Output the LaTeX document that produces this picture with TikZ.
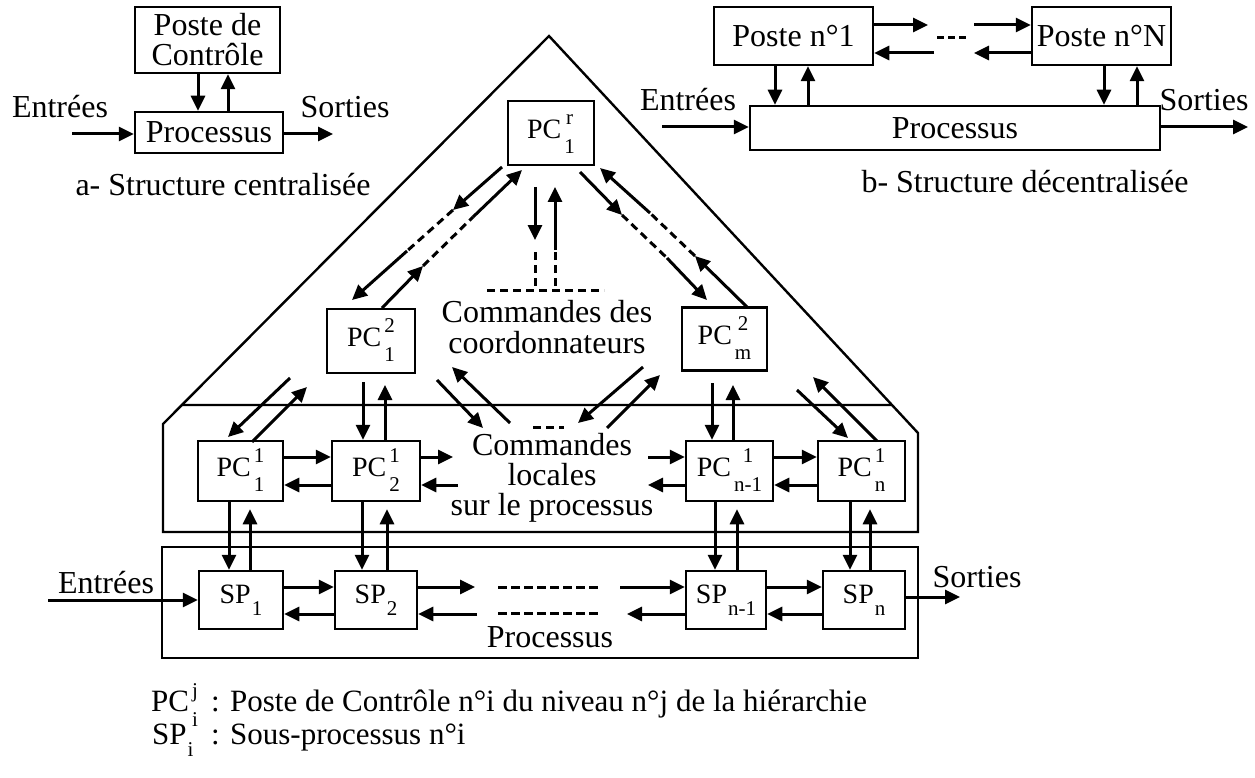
\documentclass[tikz,border=0pt]{standalone}
\usepackage{fontspec}
\setmainfont{Liberation Serif}
\usetikzlibrary{arrows.meta,calc}
\newcommand\ud[2]{\hspace{3pt}\raisebox{-15pt}{\fontsize{21}{29}\selectfont\begin{tabular}[b]{@{}c@{}}#1\\#2\end{tabular}}}
\newcommand\dn[1]{\hspace{1pt}\raisebox{-12pt}{\fontsize{21}{21}\selectfont #1}}
\newcommand\txt{\fontsize{32}{30}\selectfont}
\newcommand\ltxt{\fontsize{28}{30}\selectfont}
\begin{document}
\begin{tikzpicture}[x=1pt,y=-1pt,
  box/.style={draw, line width=2.5pt, inner sep=0pt, font=\txt},
  pcbox/.style={draw, line width=2.5pt, inner sep=0pt, font=\ltxt},
  lbl/.style={inner sep=0pt, font=\txt},
  arr/.style={line width=3pt, -{Triangle[length=15pt,width=14pt]}},
  dsh/.style={line width=3pt, dash pattern=on 8pt off 5pt},
  frame/.style={line width=2.4pt}]
\fill[white] (0,0) rectangle (1255,778);
\useasboundingbox (0,0) rectangle (1255,778);

% ---------- (a) centralised structure
\node[box, minimum width=145pt, minimum height=66pt, align=center] (postec) at (207.5,40) {Poste de\\Contrôle};
\node[box, minimum width=148pt, minimum height=41pt] (procA) at (209,132.5) {Processus};
\node[lbl] (entA) at (60,107) {Entrées};
\node[lbl] (sortA) at (345,107) {Sorties};
\coordinate (inA) at (72,134);
\coordinate (outA) at (333,134);
\draw[arr] (inA) -- (inA -| procA.west);
\draw[arr] (outA -| procA.east) -- (outA);
\draw[arr] ([xshift=-9.5pt]postec.south) -- ([xshift=-9.5pt]postec.south |- procA.north);
\draw[arr] ([xshift=20.5pt]postec.south |- procA.north) -- ([xshift=20.5pt]postec.south);
\node[lbl] (capA) at (223,185) {a- Structure centralisée};

% ---------- (b) decentralised structure
\node[box, minimum width=159pt, minimum height=58pt] (p1) at (793.5,36) {Poste n°1};
\node[box, minimum width=139pt, minimum height=58pt] (pN) at (1101.5,36) {Poste n°N};
\node[box, minimum width=410pt, minimum height=44pt] (procB) at (955,128) {Processus};
\coordinate (b1r) at (928,25);
\coordinate (b2l) at (974,25);
\coordinate (b3l) at (934,53);
\coordinate (b4r) at (974,53);
\coordinate (bd1) at (937,38);
\coordinate (bd2) at (968,38);
\draw[arr] (p1.east |- b1r) -- (b1r);
\draw[arr] (b2l) -- (b2l -| pN.west);
\draw[arr] (b3l) -- (b3l -| p1.east);
\draw[arr] (pN.west |- b4r) -- (b4r);
\draw[line width=3pt, dash pattern=on 7pt off 4pt] (bd1) -- (bd2);
\draw[arr] ([xshift=-18.5pt]p1.south) -- ([xshift=-18.5pt]p1.south |- procB.north);
\draw[arr] ([xshift=14.5pt]p1.south |- procB.north) -- ([xshift=14.5pt]p1.south);
\draw[arr] ([xshift=2.5pt]pN.south) -- ([xshift=2.5pt]pN.south |- procB.north);
\draw[arr] ([xshift=35.5pt]pN.south |- procB.north) -- ([xshift=35.5pt]pN.south);
\node[lbl] (entB) at (688,100) {Entrées};
\node[lbl] (sortB) at (1204,100) {Sorties};
\coordinate (inB) at (662,127);
\coordinate (outB) at (1248,127);
\draw[arr] (inB) -- (inB -| procB.west);
\draw[arr] (outB -| procB.east) -- (outB);
\node[lbl] (capB) at (1025,182) {b- Structure décentralisée};

% ---------- hierarchical structure: frames
\coordinate (apex) at (549,36);
\coordinate (lk) at (163,424);
\coordinate (lb) at (163,532);
\coordinate (rb) at (918,532);
\coordinate (rk) at (918,433);
\draw[frame, line join=miter] (apex) -- (lk) -- (lb) -- (rb) -- (rk) -- cycle;
\draw[frame] ($(apex)!{369/388}!(lk)$) -- ($(apex)!{369/397}!(rk)$);
\node[draw, frame, minimum width=756pt, minimum height=111pt, inner sep=0pt] (lower) at (540,602.5) {};

% ---------- control posts
\node[pcbox, minimum width=86pt, minimum height=64pt] (pcr) at (551,133) {PC\ud{r}{1}};
\node[pcbox, minimum width=88pt, minimum height=64pt] (pc21) at (371,341) {PC\ud{2}{1}};
\node[pcbox, minimum width=85pt, minimum height=63pt] (pc2m) at (724.5,339) {PC\ud{2}{m}};
\node[pcbox, minimum width=85pt, minimum height=60pt] (pc11) at (240.5,471) {PC\ud{1}{1}};
\node[pcbox, minimum width=88pt, minimum height=60pt] (pc12) at (376,471) {PC\ud{1}{2}};
\node[pcbox, minimum width=87pt, minimum height=60pt] (pcn1) at (729.5,471) {PC\ud{1}{n-1}};
\node[pcbox, minimum width=87pt, minimum height=60pt] (pcn) at (861.5,471) {PC\ud{1}{n}};
\node[pcbox, minimum width=84pt, minimum height=58pt] (sp1) at (241,600) {SP\dn{1}};
\node[pcbox, minimum width=82pt, minimum height=58pt] (sp2) at (376,600) {SP\dn{2}};
\node[pcbox, minimum width=80pt, minimum height=58pt] (spn1) at (726,600) {SP\dn{n-1}};
\node[pcbox, minimum width=82pt, minimum height=58pt] (spn) at (864,600) {SP\dn{n}};

% ---------- labels
\node[lbl, align=center, font=\fontsize{32}{31}\selectfont] (coord) at (547,327) {Commandes des\\coordonnateurs};
\node[lbl, align=center] (cloc) at (552,478) {Commandes\\locales\\sur le processus};
\node[lbl] (procC) at (550,637) {Processus};
\node[lbl] (entC) at (106,583) {Entrées};
\node[lbl] (sortC) at (977,577) {Sorties};

% ---------- top vertical from PC r
\coordinate (v1a) at (535,187);
\coordinate (v1b) at (535,240);
\coordinate (v1c) at (535,252);
\coordinate (v1d) at (535,286);
\coordinate (v2a) at (555,286);
\coordinate (v2b) at (555,250);
\coordinate (v2c) at (555,187);
\draw[arr] (v1a) -- (v1b);
\draw[dsh] (v1c) -- (v1d);
\draw[dsh] (v2a) -- (v2b);
\draw[arr] (v2b) -- (v2c);
\coordinate (hd1) at (487,290);
\coordinate (hd2) at (604,290);
\draw[dsh] (hd1) -- (hd2);

% ---------- diagonals level r <-> level 2
\coordinate (a0) at (502,167); \coordinate (a1) at (453,210);
\coordinate (a2) at (407,251); \coordinate (a3) at (352,300);
\draw[arr] (a0) -- (a1); \draw[dsh] (a1) -- (a2); \draw[arr] (a2) -- (a3);
\coordinate (b0) at (382,308); \coordinate (b1) at (423,266);
\coordinate (b2) at (473,217); \coordinate (b3) at (522,170);
\draw[arr] (b0) -- (b1); \draw[dsh] (b1) -- (b2); \draw[arr] (b2) -- (b3);
\coordinate (c0) at (580,172); \coordinate (c1) at (622,215);
\coordinate (c2) at (667,258); \coordinate (c3) at (707,300);
\draw[arr] (c0) -- (c1); \draw[dsh] (c1) -- (c2); \draw[arr] (c2) -- (c3);
\coordinate (d0) at (747,307); \coordinate (d1) at (695,256);
\coordinate (d2) at (650,213); \coordinate (d3) at (600,168);
\draw[arr] (d0) -- (d1); \draw[dsh] (d1) -- (d2); \draw[arr] (d2) -- (d3);

% ---------- level 2 <-> level 1
\coordinate (e0) at (290,378); \coordinate (e1) at (228,437);
\coordinate (f0) at (252,442); \coordinate (f1) at (307,387);
\draw[arr] (e0) -- (e1); \draw[arr] (f0) -- (f1);
\coordinate (g0) at (363,382); \coordinate (g1) at (385,385);
\draw[arr] (g0) -- (g0 |- pc12.north);
\draw[arr] (g1 |- pc12.north) -- (g1);
\coordinate (h0) at (437,380); \coordinate (h1) at (483,428);
\coordinate (h2) at (510,423); \coordinate (h3) at (452,367);
\draw[arr] (h0) -- (h1); \draw[arr] (h2) -- (h3);
\coordinate (i0) at (643,367); \coordinate (i1) at (578,423);
\coordinate (i2) at (607,428); \coordinate (i3) at (660,375);
\draw[arr] (i0) -- (i1); \draw[arr] (i2) -- (i3);
\coordinate (m0) at (712,383); \coordinate (m1) at (733,385);
\draw[arr] (m0) -- (m0 |- pcn1.north);
\draw[arr] (m1 |- pcn1.north) -- (m1);
\coordinate (k0) at (797,390); \coordinate (k1) at (848,438);
\coordinate (l0) at (877,441); \coordinate (l1) at (813,377);
\draw[arr] (k0) -- (k1); \draw[arr] (l0) -- (l1);
\coordinate (cd1) at (533,427); \coordinate (cd2) at (564,427);
\draw[dsh] (cd1) -- (cd2);

% ---------- level 1 horizontals
\coordinate (r1) at (0,457); \coordinate (r2) at (0,485);
\draw[arr] (pc11.east |- r1) -- (pc12.west |- r1);
\draw[arr] (pc12.west |- r2) -- (pc11.east |- r2);
\coordinate (q1) at (453,457); \coordinate (q2) at (458,485);
\draw[arr] (pc12.east |- q1) -- (q1);
\draw[arr] (q2) -- (pc12.east |- q2);
\coordinate (q3) at (648,457); \coordinate (q4) at (648,485);
\draw[arr] (q3) -- (pcn1.west |- q3);
\draw[arr] (pcn1.west |- q4) -- (q4);
\draw[arr] (pcn1.east |- r1) -- (pcn.west |- r1);
\draw[arr] (pcn.west |- r2) -- (pcn1.east |- r2);

% ---------- level 1 <-> sub-processes
\draw[arr] ([xshift=-11.5pt]pc11.south) -- ([xshift=-11.5pt]pc11.south |- sp1.north);
\draw[arr] ([xshift=9.5pt]pc11.south |- sp1.north) -- ([xshift=9.5pt,yshift=-7pt]pc11.south);
\draw[arr] ([xshift=-14pt]pc12.south) -- ([xshift=-14pt]pc12.south |- sp2.north);
\draw[arr] ([xshift=11pt]pc12.south |- sp2.north) -- ([xshift=11pt,yshift=-7pt]pc12.south);
\draw[arr] ([xshift=-14.5pt]pcn1.south) -- ([xshift=-14.5pt]pcn1.south |- spn1.north);
\draw[arr] ([xshift=7.5pt]pcn1.south |- spn1.north) -- ([xshift=7.5pt,yshift=-7pt]pcn1.south);
\draw[arr] ([xshift=-11.5pt]pcn.south) -- ([xshift=-11.5pt]pcn.south |- spn.north);
\draw[arr] ([xshift=8.5pt]pcn.south |- spn.north) -- ([xshift=8.5pt,yshift=-7pt]pcn.south);

% ---------- sub-process horizontals
\coordinate (s1) at (0,587); \coordinate (s2) at (0,614);
\coordinate (inC) at (48,600);
\draw[arr] (inC) -- (inC -| sp1.west);
\draw[arr] (sp1.east |- s1) -- (sp2.west |- s1);
\draw[arr] (sp2.west |- s2) -- (sp1.east |- s2);
\coordinate (t1) at (475,587); \coordinate (t2) at (477,614);
\draw[arr] (sp2.east |- t1) -- (t1);
\draw[arr] (t2) -- (sp2.east |- t2);
\coordinate (dd1) at (498,587); \coordinate (dd2) at (601,587);
\coordinate (dd3) at (498,613); \coordinate (dd4) at (601,613);
\draw[line width=3pt, dash pattern=on 9pt off 4pt] (dd1) -- (dd2);
\draw[line width=3pt, dash pattern=on 9pt off 4pt] (dd3) -- (dd4);
\coordinate (t3) at (620,587); \coordinate (t4) at (627,614);
\draw[arr] (t3) -- (spn1.west |- t3);
\draw[arr] (spn1.west |- t4) -- (t4);
\draw[arr] (spn1.east |- s1) -- (spn.west |- s1);
\draw[arr] (spn.west |- s2) -- (spn1.east |- s2);
\coordinate (outC) at (960,597);
\draw[arr] (outC -| spn.east) -- (outC);

% ---------- legend
\node[lbl, anchor=base west, font=\fontsize{31}{30}\selectfont] (legpc) at (151,711) {PC\ud{j}{i}};
\node[lbl, anchor=base west, font=\fontsize{31}{30}\selectfont] (legpct) at (211,711) {: Poste de Contrôle n°i du niveau n°j de la hiérarchie};
\node[lbl, anchor=base west, font=\fontsize{31}{30}\selectfont] (legsp) at (152,744) {SP\dn{i}};
\node[lbl, anchor=base west, font=\fontsize{31}{30}\selectfont] (legspt) at (211,744) {: Sous-processus n°i};
\end{tikzpicture}
\end{document}
